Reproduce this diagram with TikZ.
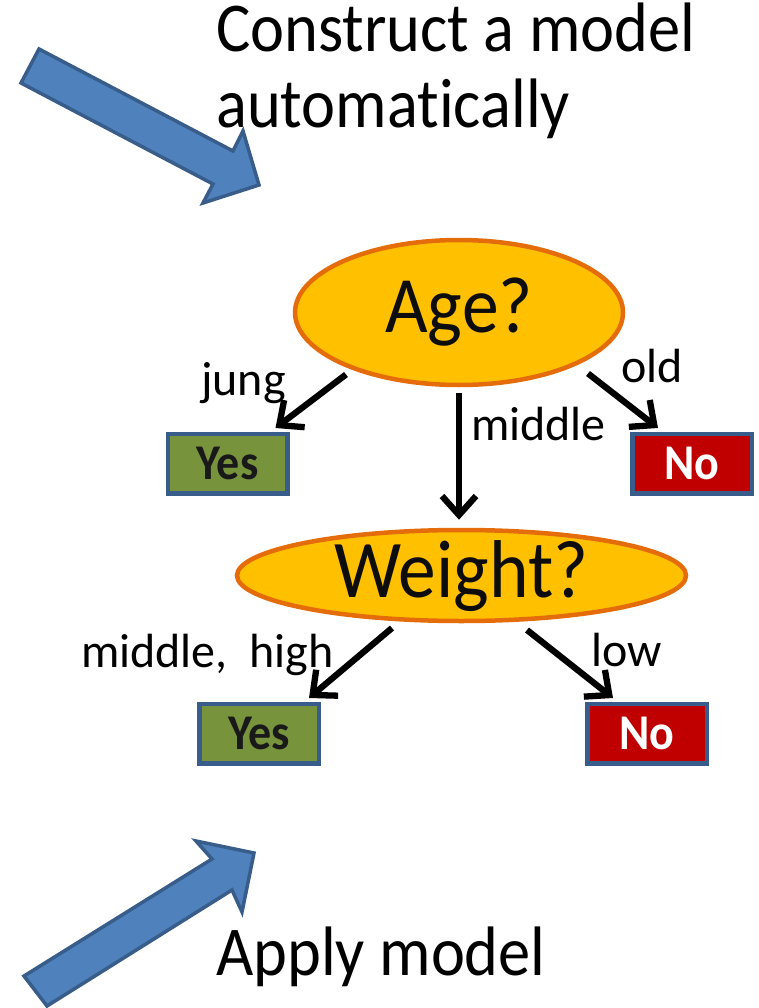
\documentclass[tikz,border=0pt]{standalone}
\usepackage{fontspec}
\setmainfont{Carlito}[Ligatures={NoCommon,NoContextual},Contextuals=NoAlternate]
\newfontfamily\narrowfont[FakeStretch=0.92,Ligatures={NoCommon,NoContextual},
  Contextuals=NoAlternate]{Carlito}
\usetikzlibrary{arrows.meta,shapes.geometric,calc}

\definecolor{arrowblue}{HTML}{4F81BD}
\definecolor{arrowedge}{HTML}{385D8A}
\definecolor{nodegold}{HTML}{FFC000}
\definecolor{nodeedge}{HTML}{E46C0A}
\definecolor{yesgreen}{HTML}{77933C}
\definecolor{nored}{HTML}{C00000}

\begin{document}
\begin{tikzpicture}[x=1pt,y=-1pt,
  bigarrow/.style={fill=arrowblue,draw=arrowedge,line width=3.5pt,line join=miter},
  question/.style={ellipse,fill=nodegold,draw=nodeedge,line width=4.5pt,inner sep=0pt},
  qtext/.style={anchor=base,inner sep=0pt,text=black!95},
  leaf/.style={rectangle,draw=arrowedge,line width=4.5pt,minimum width=119.5pt,
    minimum height=59.5pt,inner sep=0pt,font=\narrowfont\bfseries\fontsize{50}{54}\selectfont},
  yesleaf/.style={leaf,fill=yesgreen,text=black!90},
  noleaf/.style={leaf,fill=nored,text=white},
  conn/.style={line width=6.3pt,-{Straight Barb[length=19pt,width=34pt]}},
  edgelabel/.style={anchor=base west,inner sep=0pt,font=\fontsize{48}{52}\selectfont},
  caption/.style={anchor=base west,inner sep=0pt,font=\narrowfont\fontsize{70}{76}\selectfont}
]
\useasboundingbox (0,0) rectangle (758,1008);

% block arrows
\draw[bigarrow] (39,49) -- (233,151) -- (243,131) -- (259,185) -- (203,203)
  -- (213,184) -- (21,83) -- cycle;
\draw[bigarrow] (24,976) -- (212,859) -- (196,841) -- (254,853) -- (242,912)
  -- (232,890) -- (47,1006) -- cycle;

% captions
\node[caption] (cap1) at (216,52) {Construct a model};
\node[caption] (cap2) at (216,128) {automat\kern0pt ically};
\node[caption] (cap3) at (216,975) {Apply model};

% decision nodes
\node[question,minimum width=328pt,minimum height=145pt] (age) at (459,312.5) {};
\node[qtext,font=\narrowfont\fontsize{80}{82}\selectfont] (agetext)
  at ($(age.center)+(0,20)$) {Age?};
\node[question,minimum width=449pt,minimum height=91pt] (weight) at (461.5,575.5) {};
\node[qtext,font=\narrowfont\fontsize{82}{84}\selectfont] (weighttext)
  at ($(weight.center)+(0,22)$) {Weight?};

% leaves
\node[yesleaf] (yes1) at (227.5,463.5) {Yes};
\node[noleaf]  (no1)  at (692,463.5) {No};
\node[yesleaf] (yes2) at (259,733.5) {Yes};
\node[noleaf]  (no2)  at (647,733.5) {No};

% branches
\draw[conn] ($(age.center)+(-113,62)$) -- ($(yes1.north east)+(-14,-3.5)$);
\draw[conn] ($(age.south)+(0,6)$) -- ($(age.south |- weight.north)+(0,-8)$);
\draw[conn] ($(age.center)+(129,61)$) -- ($(no1.north west)+(28,-3.5)$);
\draw[conn] ($(weight.center)+(-69.5,52.5)$) -- ($(yes2.north east)+(-12,-3.5)$);
\draw[conn] ($(weight.center)+(65.5,54.5)$) -- ($(no2.north west)+(28,-3.5)$);

% branch labels
\node[edgelabel] (ljung) at (201,395) {jung};
\node[edgelabel] (lold) at (621,382) {old};
\node[edgelabel] (lmid) at (471,440) {middle};
\node[edgelabel] (lmidhigh) at (81,667) {middle,\ \ high};
\node[edgelabel] (llow) at (591,666) {low};
\end{tikzpicture}
\end{document}
